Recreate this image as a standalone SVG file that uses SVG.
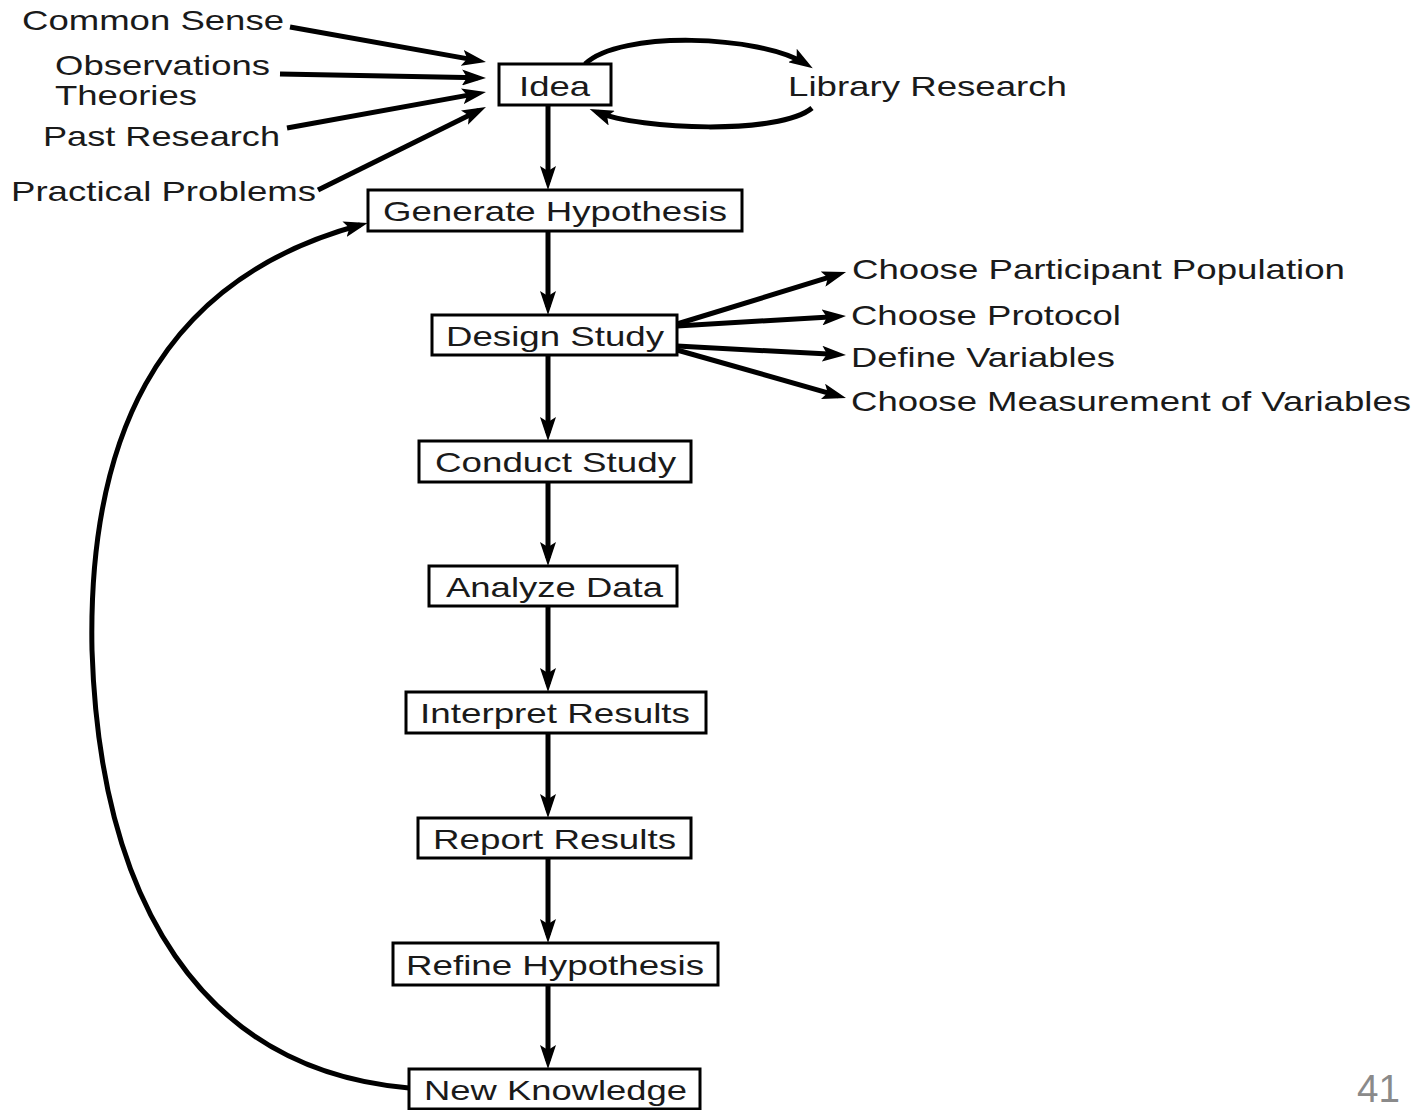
<svg xmlns="http://www.w3.org/2000/svg" width="1418" height="1110" viewBox="0 0 1418 1110">
<style>
.bg{fill:#ffffff}
.box{fill:#ffffff;stroke:#000;stroke-width:3}
.t{font-family:"Liberation Sans",Arial,sans-serif;font-size:28px;fill:#1a1a1a}
.c{fill:none;stroke:#000;stroke-width:5;marker-end:url(#ah)}
.pg{font-family:"Liberation Sans",Arial,sans-serif;font-size:38px;fill:#8a8a8a}
</style>
<defs>
<marker id="ah" markerUnits="userSpaceOnUse" viewBox="0 0 24 16" refX="16" refY="8" markerWidth="24" markerHeight="16" orient="auto">
<path d="M0,0 L24,8 L0,16 L5,8 z" fill="#000"/>
</marker>
</defs>
<rect class="bg" x="0" y="0" width="1418" height="1110"/>

<g id="connectors">
<line class="c" x1="290" y1="27" x2="478.1" y2="60.6"/>
<line class="c" x1="280" y1="74" x2="478" y2="77.8"/>
<line class="c" x1="287" y1="128" x2="478.1" y2="93.4"/>
<line class="c" x1="318" y1="190" x2="478.8" y2="110.5"/>
<path class="c" d="M585 64 C620 30 760 35 806 64"/>
<path class="c" d="M812 108 C780 135 640 130 597 112"/>
<line class="c" x1="548" y1="105" x2="548" y2="182"/>
<line class="c" x1="548" y1="231" x2="548" y2="307"/>
<line class="c" x1="548" y1="355" x2="548" y2="433"/>
<line class="c" x1="548" y1="482" x2="548" y2="558"/>
<line class="c" x1="548" y1="606" x2="548" y2="684"/>
<line class="c" x1="548" y1="733" x2="548" y2="810"/>
<line class="c" x1="548" y1="858" x2="548" y2="935"/>
<line class="c" x1="548" y1="985" x2="548" y2="1061"/>
<line class="c" x1="677" y1="324" x2="838.4" y2="274.4"/>
<line class="c" x1="677" y1="326" x2="838" y2="316.5"/>
<line class="c" x1="677" y1="346" x2="838" y2="354.6"/>
<line class="c" x1="677" y1="350" x2="838.3" y2="395.8"/>
<path class="c" d="M409 1088 C200 1070 100 900 92 650 C88 450 150 282 360 225"/>
</g>

<g id="sources">
<text class="t" x="22" y="30" textLength="262" lengthAdjust="spacingAndGlyphs">Common Sense</text>
<text class="t" x="55" y="75" textLength="215" lengthAdjust="spacingAndGlyphs">Observations</text>
<text class="t" x="55" y="105" textLength="142" lengthAdjust="spacingAndGlyphs">Theories</text>
<text class="t" x="43" y="146" textLength="237" lengthAdjust="spacingAndGlyphs">Past Research</text>
<text class="t" x="11" y="201" textLength="305" lengthAdjust="spacingAndGlyphs">Practical Problems</text>
</g>

<g id="library">
<text class="t" x="788" y="96" textLength="279" lengthAdjust="spacingAndGlyphs">Library Research</text>
</g>

<g id="idea">
<rect class="box" x="499" y="64" width="112" height="41"/>
<text class="t" x="519" y="96" textLength="71" lengthAdjust="spacingAndGlyphs">Idea</text>
</g>
<g id="generate">
<rect class="box" x="368" y="190" width="374" height="41"/>
<text class="t" x="383" y="221" textLength="344" lengthAdjust="spacingAndGlyphs">Generate Hypothesis</text>
</g>
<g id="design">
<rect class="box" x="432" y="315" width="245" height="40"/>
<text class="t" x="446" y="346" textLength="218" lengthAdjust="spacingAndGlyphs">Design Study</text>
</g>
<g id="conduct">
<rect class="box" x="419" y="441" width="272" height="41"/>
<text class="t" x="435" y="472" textLength="241" lengthAdjust="spacingAndGlyphs">Conduct Study</text>
</g>
<g id="analyze">
<rect class="box" x="429" y="566" width="248" height="40"/>
<text class="t" x="446" y="597" textLength="217" lengthAdjust="spacingAndGlyphs">Analyze Data</text>
</g>
<g id="interpret">
<rect class="box" x="406" y="692" width="300" height="41"/>
<text class="t" x="420" y="723" textLength="270" lengthAdjust="spacingAndGlyphs">Interpret Results</text>
</g>
<g id="report">
<rect class="box" x="418" y="818" width="273" height="40"/>
<text class="t" x="433" y="849" textLength="243" lengthAdjust="spacingAndGlyphs">Report Results</text>
</g>
<g id="refine">
<rect class="box" x="393" y="943" width="325" height="42"/>
<text class="t" x="406" y="975" textLength="298" lengthAdjust="spacingAndGlyphs">Refine Hypothesis</text>
</g>
<g id="newknowledge">
<rect class="box" x="409" y="1069" width="291" height="40"/>
<text class="t" x="424" y="1100" textLength="263" lengthAdjust="spacingAndGlyphs">New Knowledge</text>
</g>

<g id="design-outputs">
<text class="t" x="852" y="279" textLength="493" lengthAdjust="spacingAndGlyphs">Choose Participant Population</text>
<text class="t" x="851" y="325" textLength="270" lengthAdjust="spacingAndGlyphs">Choose Protocol</text>
<text class="t" x="851" y="367" textLength="264" lengthAdjust="spacingAndGlyphs">Define Variables</text>
<text class="t" x="851" y="411" textLength="560" lengthAdjust="spacingAndGlyphs">Choose Measurement of Variables</text>
</g>

<text class="pg" x="1357" y="1102" textLength="43" lengthAdjust="spacingAndGlyphs">41</text>
</svg>
